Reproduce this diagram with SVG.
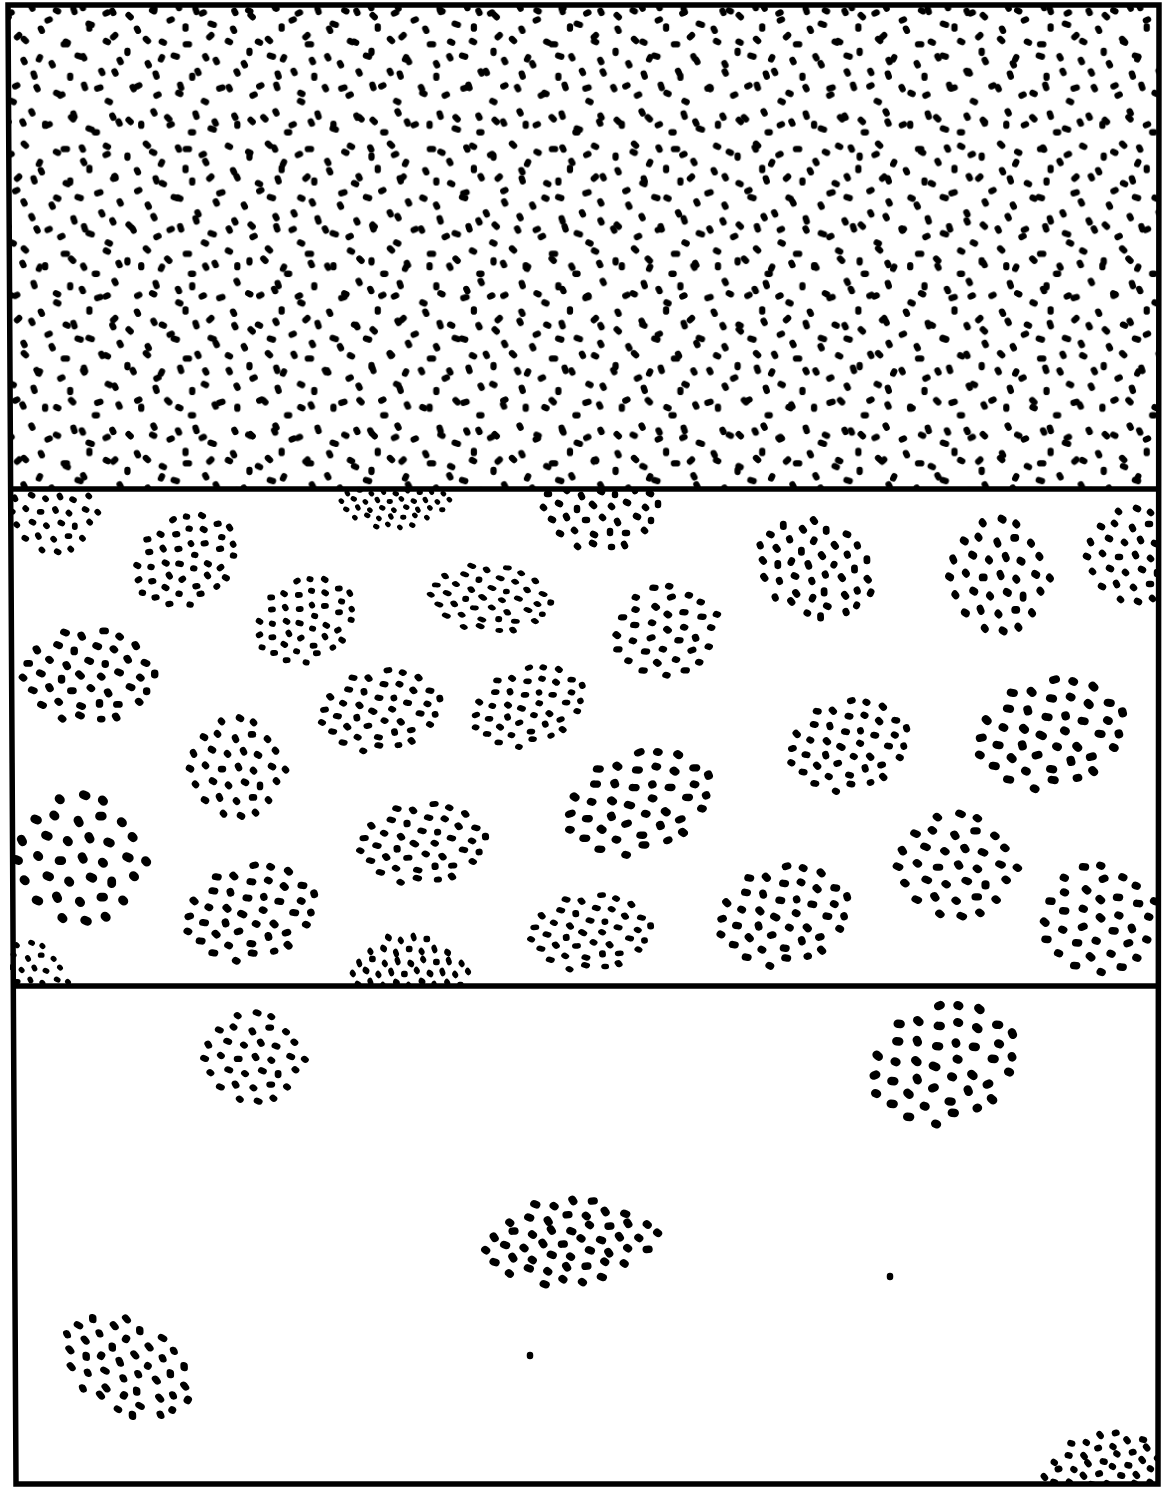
<svg xmlns="http://www.w3.org/2000/svg" width="1167" height="1488" viewBox="0 0 1167 1488">
<style>
.d{fill:none;stroke:#000;stroke-width:6.5;stroke-linecap:round;stroke-linejoin:round}
.t{fill:none;stroke:#000;stroke-width:5.8;stroke-linecap:round;stroke-linejoin:round}
.frame{fill:none;stroke:#000;stroke-width:5.5}
</style>
<defs>
<pattern id="pA" patternUnits="userSpaceOnUse" width="113" height="97" patternTransform="scale(1.08)">
<path class="t" d="M6 14l2 2M29 6l1 2M44 19l2 -1M68 8l1 3M82 22l3 1M104 10l1 2M5 47l0 2M22 36l2 2M36 55l1 -2M59 41l3 0M77 52l1 2M98 38l2 1M14 80l2 -1M31 68l1 3M52 86l2 1M65 70l0 2M90 82l3 -1M106 66l1 2"/>
</pattern>
<pattern id="pB" patternUnits="userSpaceOnUse" width="89" height="131" patternTransform="translate(30 20) scale(1.08)">
<path class="t" d="M10 8l1 2M33 20l2 1M55 6l0 2M77 16l2 -2M20 40l1 2M44 33l3 1M66 47l1 2M83 37l1 2M6 62l1 2M28 70l2 -1M50 60l1 3M72 75l2 1M14 96l0 2M38 90l2 2M60 104l2 0M82 94l1 2M24 122l2 1M48 118l1 2M70 125l2 -1"/>
</pattern>
<path id="c1" class="d" d="M-21 -41l2 1M-6 -38l1 2M13 -42l2 0M27 -37l1 1M-45 -25l1 2M-27 -29l2 1M-12 -24l0 2M7 -28l2 1M22 -25l1 1M41 -29l1 2M-53 -11l2 0M-34 -15l1 1M-19 -10l1 2M0 -14l2 1M15 -11l0 1M34 -16l1 2M49 -12l2 1M-57 2l1 1M-42 -2l2 1M-23 3l0 2M-8 -1l2 2M11 1l1 1M26 -3l2 1M45 2l1 1M58 -2l0 2M-49 14l2 1M-34 11l1 2M-15 15l2 0M2 12l1 1M17 16l1 2M36 11l2 1M51 15l0 1M-41 28l2 1M-26 25l1 1M-7 29l2 1M10 26l0 2M25 28l2 0M44 25l1 1M-23 41l1 1M-8 38l2 1M11 42l1 0M24 39l1 2"/>
<path id="c2" class="d" d="M-17 -44l1 1M1 -47l2 1M15 -43l1 1M-35 -29l2 1M-21 -32l1 1M-3 -28l1 2M13 -31l2 0M29 -27l1 1M-45 -14l1 2M-27 -17l2 1M-11 -13l1 1M5 -16l1 2M19 -12l2 1M37 -16l1 1M-49 1l2 1M-33 -2l1 1M-17 2l2 0M0 -1l1 2M15 3l1 1M33 -1l2 1M47 2l1 1M-43 16l1 1M-26 13l2 1M-10 17l1 1M6 14l2 1M22 17l0 2M38 13l1 1M-34 31l2 1M-19 28l1 2M-2 32l1 1M14 29l2 0M30 31l1 1M-15 44l1 1M2 46l2 1M17 43l1 1"/>
<path id="c3" class="d" d="M-28 -35l2 1M-12 -32l1 1M4 -36l1 2M20 -33l2 0M-50 -21l1 1M-34 -24l2 1M-18 -20l1 2M-2 -23l2 0M14 -21l1 1M30 -24l1 2M46 -20l2 1M-64 -10l1 2M-48 -13l2 0M-32 -9l1 1M-16 -12l1 2M0 -9l2 1M16 -13l1 1M32 -10l2 0M48 -12l1 2M64 -9l1 1M-72 1l1 1M-56 -2l2 1M-40 2l1 1M-24 -1l1 2M-8 2l2 0M8 -2l1 1M24 1l2 1M40 -1l1 2M56 2l1 1M72 -1l1 1M-66 12l2 1M-50 9l1 2M-34 13l1 1M-18 10l2 1M-2 13l1 1M14 9l2 1M30 12l1 2M46 10l1 1M62 13l2 0M-54 23l1 1M-38 20l2 1M-22 24l1 1M-6 21l1 2M10 23l2 0M26 20l1 1M42 23l1 1M-26 35l2 1M-10 32l1 1M6 36l1 1M22 33l2 1"/>
<clipPath id="clipTop"><rect x="10" y="6" width="1148" height="481"/></clipPath>
<clipPath id="clipMid"><rect x="10" y="491" width="1148" height="493"/></clipPath>
<clipPath id="clipBot"><rect x="10" y="988" width="1148" height="494"/></clipPath>
</defs>

<g id="top-panel" clip-path="url(#clipTop)">
<rect x="10" y="6" width="1148" height="481" fill="url(#pA)"/>
<rect x="10" y="6" width="1148" height="481" fill="url(#pB)"/>
</g>

<g id="middle-panel" clip-path="url(#clipMid)">
<use href="#c2" transform="translate(55,510) scale(0.9)"/>
<use href="#c1" transform="translate(185,560) rotate(-35) scale(0.95)"/>
<use href="#c3" transform="translate(395,500) scale(0.75)"/>
<use href="#c1" transform="translate(600,505) scale(1)"/>
<use href="#c1" transform="translate(815,568) rotate(25) scale(1.05)"/>
<use href="#c2" transform="translate(1000,575) scale(1.05,1.2)"/>
<use href="#c2" transform="translate(1135,555) scale(1)"/>
<use href="#c1" transform="translate(305,620) rotate(-30) scale(0.9)"/>
<use href="#c1" transform="translate(490,598) rotate(5) scale(1.05,0.75)"/>
<use href="#c2" transform="translate(667,630) rotate(-20) scale(1.1,0.95)"/>
<use href="#c1" transform="translate(88,675) scale(1.15,1.05)"/>
<use href="#c1" transform="translate(380,710) rotate(-10) scale(1.05,0.9)"/>
<use href="#c1" transform="translate(528,706) rotate(-20) scale(1,0.85)"/>
<use href="#c2" transform="translate(238,767) scale(1,1.05)"/>
<use href="#c1" transform="translate(848,745) rotate(-15) scale(1.05,1)"/>
<use href="#c1" transform="translate(1050,733) rotate(-15) scale(1.3,1.2)"/>
<use href="#c2" transform="translate(82,858) scale(1.35,1.35)"/>
<use href="#c1" transform="translate(638,802) rotate(-20) scale(1.3,1.1)"/>
<use href="#c1" transform="translate(422,843) rotate(-5) scale(1.1,0.9)"/>
<use href="#c2" transform="translate(958,865) scale(1.25,1.1)"/>
<use href="#c1" transform="translate(250,912) rotate(-15) scale(1.15,1.05)"/>
<use href="#c1" transform="translate(590,932) rotate(-5) scale(1.05,0.85)"/>
<use href="#c1" transform="translate(783,915) rotate(-15) scale(1.15,1.1)"/>
<use href="#c2" transform="translate(1100,918) rotate(-20) scale(1.2,1.15)"/>
<use href="#c3" transform="translate(410,972) scale(0.8,1)"/>
<use href="#c2" transform="translate(30,980) scale(0.8)"/>
</g>

<g id="bottom-panel" clip-path="url(#clipBot)">
<use href="#c2" transform="translate(255,1057) scale(1.05,0.95)"/>
<use href="#c1" transform="translate(943,1063) rotate(-22) scale(1.3,1.3)"/>
<use href="#c3" transform="translate(571,1241) rotate(-5) scale(1.2,1.15)"/>
<use href="#c1" transform="translate(127,1366) rotate(30) scale(1.2,1)"/>
<use href="#c3" transform="translate(1105,1470) rotate(-15) scale(0.95,1)"/>
<path class="d" d="M530 1355l0 1M890 1276l0 1" stroke-width="3"/>
</g>

<g id="frame">
<polygon class="frame" points="8,5 1159,5 1158,1484 16,1484"/>
<line class="frame" x1="9" y1="489" x2="1159" y2="489"/>
<line class="frame" x1="12" y1="986" x2="1158" y2="986"/>
</g>
</svg>
